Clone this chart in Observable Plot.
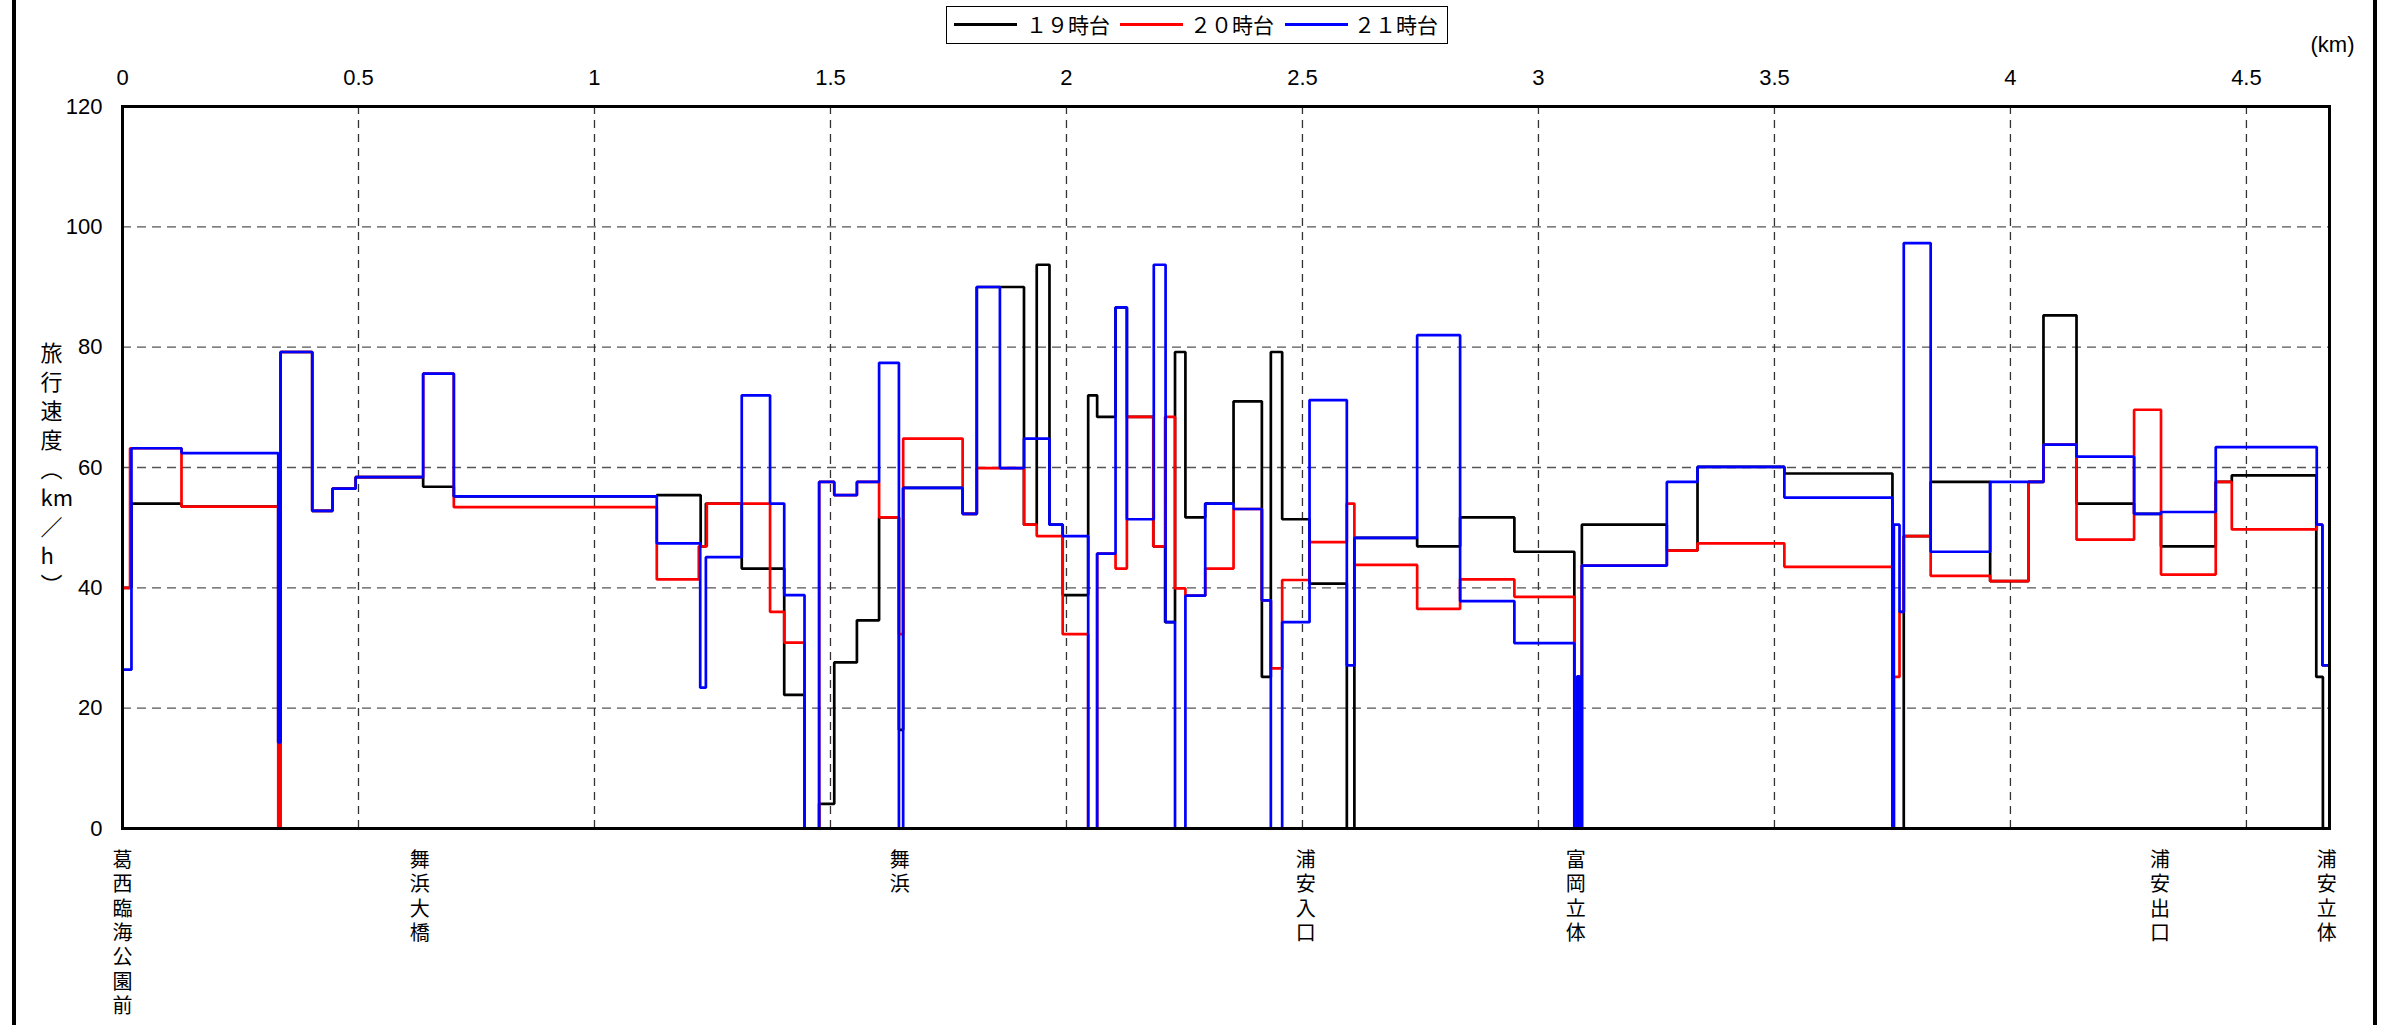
<!DOCTYPE html>
<html><head><meta charset="utf-8">
<script src="https://cdn.jsdelivr.net/npm/d3@7"></script>
<script src="https://cdn.jsdelivr.net/npm/@observablehq/plot@0.6"></script>
<style>
body{margin:0;background:#fff;width:2390px;height:1025px;overflow:hidden;position:relative;font-family:"Liberation Sans",Arial,sans-serif}
#chart{position:absolute;left:0;top:0}
.edge{position:absolute;top:0;height:1025px;background:#000}
#legend{position:absolute;left:946px;top:6px;width:502px;height:38px;border:1.5px solid #000;box-sizing:border-box;background:#fff;font-family:"Noto Sans CJK JP",sans-serif;font-size:21px}
#legend .sw{position:absolute;top:16px;height:3px}
#legend .lb{position:absolute;top:3px;line-height:28px;white-space:nowrap}
</style></head>
<body>
<div id="chart"></div>
<div class="edge" style="left:12px;width:3.5px"></div>
<div class="edge" style="left:2373px;width:4px"></div>
<div id="legend"></div>
<script>
// ---- data (km breakpoints and travel speed km/h, step-after) ----
const seriesNames = ["１９時台", "２０時台", "２１時台"];
const seriesColors = ["#000000", "#ff0000", "#0000ff"];

const km19 = [0, 0.019, 0.125, 0.330, 0.335, 0.402, 0.445, 0.494, 0.637, 0.702, 1.132, 1.225, 1.236, 1.312, 1.402, 1.445, 1.476, 1.508, 1.556, 1.603, 1.645, 1.654, 1.780, 1.810, 1.910, 1.937, 1.964, 1.992, 2.046, 2.065, 2.104, 2.128, 2.184, 2.209, 2.230, 2.252, 2.294, 2.354, 2.414, 2.433, 2.457, 2.515, 2.594, 2.610, 2.743, 2.834, 2.949, 3.076, 3.092, 3.272, 3.337, 3.521, 3.750, 3.774, 3.831, 3.957, 4.038, 4.070, 4.140, 4.262, 4.319, 4.435, 4.469, 4.648, 4.662, 4.676];
const sp19 = [40.0, 54.0, 53.5, 14.3, 79.2, 52.8, 56.5, 58.4, 56.8, 55.2, 55.4, 46.9, 54.0, 43.2, 22.2, 0, 4.1, 27.6, 34.6, 51.7, 16.4, 56.6, 52.3, 90.0, 50.5, 93.7, 50.5, 38.8, 72.0, 68.4, 86.6, 68.4, 46.9, 34.3, 79.2, 51.7, 54.0, 71.0, 25.2, 79.2, 51.4, 40.7, 0, 48.3, 46.9, 51.7, 46.0, 0, 50.5, 46.2, 60.1, 59.0, 0, 48.6, 57.6, 41.1, 57.6, 85.3, 54.0, 52.3, 46.9, 57.6, 58.7, 25.2, 0, 0];

const km20 = [0, 0.016, 0.125, 0.330, 0.335, 0.402, 0.445, 0.494, 0.637, 0.702, 1.132, 1.221, 1.238, 1.372, 1.402, 1.445, 1.476, 1.508, 1.556, 1.603, 1.645, 1.654, 1.780, 1.810, 1.910, 1.937, 1.992, 2.046, 2.065, 2.104, 2.128, 2.184, 2.209, 2.230, 2.252, 2.294, 2.354, 2.414, 2.433, 2.457, 2.515, 2.594, 2.610, 2.743, 2.834, 2.949, 3.076, 3.092, 3.272, 3.337, 3.521, 3.750, 3.753, 3.765, 3.774, 3.831, 3.957, 4.038, 4.070, 4.140, 4.262, 4.319, 4.435, 4.469, 4.649, 4.661, 4.676];
const sp20 = [40.0, 63.2, 53.5, 0, 79.2, 52.8, 56.5, 58.4, 75.6, 53.4, 41.4, 46.9, 54.0, 36.0, 30.9, 0, 57.6, 55.4, 57.6, 51.7, 32.3, 64.8, 52.3, 59.9, 50.5, 48.6, 32.3, 0, 45.7, 43.2, 68.4, 46.9, 68.4, 39.9, 38.7, 43.2, 53.1, 37.9, 26.6, 41.3, 47.6, 54.0, 43.8, 36.5, 41.4, 38.5, 0, 43.7, 46.2, 47.4, 43.5, 0, 25.2, 36.0, 48.6, 42.0, 41.1, 57.6, 63.8, 48.0, 69.6, 42.2, 57.6, 49.7, 50.5, 27.1, 27.1];

const km21 = [0, 0.019, 0.125, 0.330, 0.335, 0.402, 0.445, 0.494, 0.637, 0.702, 1.132, 1.224, 1.236, 1.312, 1.372, 1.402, 1.445, 1.476, 1.508, 1.556, 1.603, 1.645, 1.654, 1.780, 1.810, 1.859, 1.910, 1.964, 1.992, 2.046, 2.065, 2.104, 2.128, 2.185, 2.210, 2.230, 2.252, 2.294, 2.354, 2.414, 2.433, 2.457, 2.515, 2.594, 2.610, 2.743, 2.834, 2.949, 3.076, 3.082, 3.087, 3.092, 3.272, 3.337, 3.521, 3.750, 3.753, 3.765, 3.774, 3.831, 3.957, 4.070, 4.140, 4.262, 4.319, 4.435, 4.649, 4.661, 4.676];
const sp21 = [26.4, 63.2, 62.4, 14.3, 79.2, 52.8, 56.5, 58.4, 75.6, 55.2, 47.4, 23.4, 45.1, 72.0, 54.0, 38.8, 0, 57.6, 55.4, 57.6, 77.4, 0, 56.6, 52.3, 90.0, 59.9, 64.8, 50.5, 48.6, 0, 45.7, 86.6, 51.4, 93.7, 34.3, 0, 38.7, 54.0, 53.1, 37.9, 0, 34.3, 71.2, 27.1, 48.3, 82.0, 37.8, 30.8, 0, 25.3, 0, 43.7, 57.6, 60.1, 55.0, 0, 50.5, 36.0, 97.3, 46.0, 57.6, 63.8, 61.8, 52.3, 52.6, 63.4, 50.5, 27.1, 27.1];

const xTicks = [0, 0.5, 1, 1.5, 2, 2.5, 3, 3.5, 4, 4.5];
const yTicks = [0, 20, 40, 60, 80, 100, 120];
const yGrid = [20, 40, 60, 80, 100];
const xGrid = [0.5, 1, 1.5, 2, 2.5, 3, 3.5, 4, 4.5];
const stationNames = ["葛西臨海公園前", "舞浜大橋", "舞浜", "浦安入口", "富岡立体", "浦安出口", "浦安立体"];
const stationKm = [0, 0.63, 1.647, 2.507, 3.079, 4.317, 4.670];
const yLabel = "旅\n行\n速\n度\n︵\nkm\n／\nh\n︶";
const xUnit = "(km)";
const kmMax = 4.676;

// ---- build ----
const toRows = (ks, vs) => ks.map((k, i) => ({km: k, v: vs[i]}));
const rows = [toRows(km19, sp19), toRows(km20, sp20), toRows(km21, sp21)];
const stations = stationNames.map((n, i) => ({km: stationKm[i], label: Array.from(n).join("\n")}));

const chart = Plot.plot({
  width: 2390, height: 1025,
  marginLeft: 122, marginRight: 61, marginTop: 106, marginBottom: 197,
  style: {fontFamily: "'Liberation Sans', Arial, sans-serif", fontSize: "22px", color: "#000", background: "transparent"},
  x: {domain: [0, kmMax]},
  y: {domain: [0, 120]},
  marks: [
    Plot.ruleY(yGrid, {stroke: "#555", strokeWidth: 1.3, strokeDasharray: "9,6"}),
    Plot.ruleX(xGrid, {stroke: "#333", strokeWidth: 1.3, strokeDasharray: "8,6"}),
    ...rows.map((r, i) => Plot.line(r, {x: "km", y: "v", curve: "step-after", stroke: seriesColors[i], strokeWidth: 2.7, strokeLinejoin: "miter", strokeLinecap: "butt"})),
    Plot.frame({stroke: "#000", strokeWidth: 3}),
    Plot.axisX({anchor: "top", ticks: xTicks, tickSize: 0, tickPadding: 22, tickFormat: d => String(d), label: null, fontSize: 22}),
    Plot.axisY({ticks: yTicks, tickSize: 0, tickPadding: 20, label: null, fontSize: 22}),
    Plot.text([xUnit], {text: d => d, frameAnchor: "top-right", dx: 3, dy: -70, textAnchor: "middle", fontSize: 22}),
    Plot.text(stations, {x: "km", text: "label", frameAnchor: "bottom", lineAnchor: "top", dy: 21, fontSize: 20, lineHeight: 1.22, fontFamily: "Noto Sans CJK JP"}),
    Plot.text([yLabel], {text: d => d, frameAnchor: "left", dx: -82, fontSize: 22, lineHeight: 1.32, fontFamily: "Noto Sans CJK JP"})
  ]
});
document.getElementById("chart").appendChild(chart);

// ---- legend ----
const leg = document.getElementById("legend");
const swLeft = [7, 173, 338], lbLeft = [79, 243, 407];
seriesNames.forEach((n, i) => {
  const s = document.createElement("div"); s.className = "sw";
  s.style.left = swLeft[i] + "px"; s.style.width = "63px"; s.style.background = seriesColors[i];
  leg.appendChild(s);
  const t = document.createElement("div"); t.className = "lb";
  t.style.left = lbLeft[i] + "px"; t.textContent = n;
  leg.appendChild(t);
});
</script>
</body></html>
